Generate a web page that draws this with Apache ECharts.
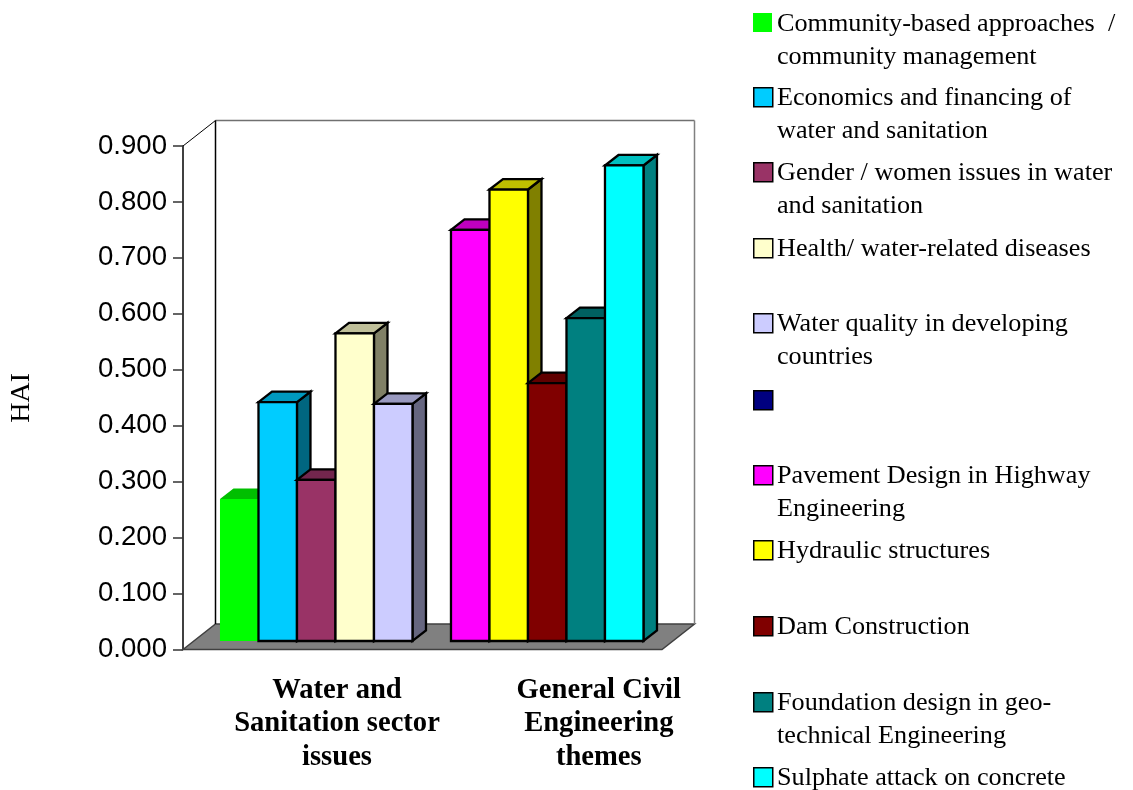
<!DOCTYPE html>
<html>
<head>
<meta charset="utf-8">
<style>html,body{margin:0;padding:0;background:#fff}#chart{width:1133px;height:790px}</style>
<script src="https://cdn.jsdelivr.net/npm/echarts@6/dist/echarts.min.js"></script>
</head>
<body>
<div id="chart"></div>
<script>
// Topic names, one per bar slot; the empty-named slot separates the two groups.
const topics = [
  'Community-based approaches  /\ncommunity management',
  'Economics and financing of\nwater and sanitation',
  'Gender / women issues in water\nand sanitation',
  'Health/ water-related diseases',
  'Water quality in developing\ncountries',
  '',
  'Pavement Design in Highway\nEngineering',
  'Hydraulic structures',
  'Dam Construction',
  'Foundation design in geo-\ntechnical Engineering',
  'Sulphate attack on concrete'
];
const haiValues = [0.254, 0.427, 0.288, 0.550, 0.424, null, 0.735, 0.807, 0.461, 0.577, 0.850];
const barColors = ['#00ff00', '#00ccff', '#993366', '#ffffcc', '#ccccff', '#000080',
                   '#ff00ff', '#ffff00', '#800000', '#008080', '#00ffff'];
const groupLabels = ['Water and\nSanitation sector\nissues', 'General Civil\nEngineering\nthemes'];
const groupLabelSlots = [4, 10.8];
const legendSwatchTops = [13, 87, 162, 238, 313, 390, 465, 540, 616, 692, 767];

// Box geometry of the pseudo-3D drawing, in pixels.
const SLOT_PX = 38.5;
const WALL_DX = 32.5, WALL_DY = -25.5;
const PLANE_DX = 10.8, PLANE_DY = -8.5;
const BAR_DX = 13.5, BAR_DY = -10.5;
const SLOT_START = 0.68;
const PLOT_W = 479;

function shade(hex, f) {
  const n = parseInt(hex.slice(1), 16);
  const c = [n >> 16 & 255, n >> 8 & 255, n & 255].map(v => Math.round(v * f));
  return 'rgb(' + c.join(',') + ')';
}

// Floor and back wall of the box, anchored on the axis scales.
function renderFrame(params, api) {
  const o = api.coord([0, 0]);
  const top = api.coord([0, 0.9]);
  const end = api.coord([PLOT_W / SLOT_PX, 0]);
  const bx = o[0] + WALL_DX, by = o[1] + WALL_DY, ty = top[1] + WALL_DY, rx = end[0] + WALL_DX;
  const line = (x1, y1, x2, y2, stroke, w) => ({
    type: 'line', shape: { x1, y1, x2, y2 }, style: { stroke, lineWidth: w }
  });
  return {
    type: 'group',
    children: [
      { type: 'polygon',
        shape: { points: [[o[0], o[1]], [bx, by], [rx, by], [end[0], end[1]]] },
        style: { fill: '#808080', stroke: '#404040', lineWidth: 1.5 } },
      line(bx, ty, rx, ty, '#707070', 1.5),
      line(rx, ty, rx, by, '#808080', 1.5),
      line(bx, ty, bx, by, '#000000', 1.5),
      line(top[0], top[1], bx, ty, '#000000', 1)
    ]
  };
}

// One bar: side face, top face, then front face.
function renderBar(params, api) {
  const i = api.value(0), v = api.value(1);
  if (isNaN(v)) return null;
  const tl = api.coord([SLOT_START + i, v]);
  const br = api.coord([SLOT_START + i + 1, 0]);
  const x0 = tl[0] + PLANE_DX, x1 = br[0] + PLANE_DX, y0 = tl[1] + PLANE_DY, y1 = br[1] + PLANE_DY;
  const color = barColors[i];
  const outlined = i !== 0;
  const edge = fill => outlined
    ? { fill, stroke: '#000', lineWidth: 2.3, lineJoin: 'miter' }
    : { fill };
  return {
    type: 'group',
    children: [
      { type: 'polygon',
        shape: { points: [[x1, y0], [x1 + BAR_DX, y0 + BAR_DY], [x1 + BAR_DX, y1 + BAR_DY], [x1, y1]] },
        style: edge(shade(color, 0.5)) },
      { type: 'polygon',
        shape: { points: [[x0, y0], [x0 + BAR_DX, y0 + BAR_DY], [x1 + BAR_DX, y0 + BAR_DY], [x1, y0]] },
        style: edge(shade(color, 0.75)) },
      { type: 'rect',
        shape: { x: x0, y: y0, width: x1 - x0, height: y1 - y0 },
        style: edge(color) }
    ]
  };
}

// Key down the right-hand side: a swatch and the wrapped topic name.
const legendGraphics = [];
topics.forEach((name, i) => {
  legendGraphics.push({
    type: 'rect', left: 753, top: legendSwatchTops[i],
    shape: { width: 19, height: 19 },
    style: i === 0 ? { fill: barColors[i] } : { fill: barColors[i], stroke: '#000', lineWidth: 1.5 }
  });
  if (name) legendGraphics.push({
    type: 'text', left: 777, top: legendSwatchTops[i] - 6,
    style: { text: name, fill: '#000', font: '26.2px "Liberation Serif"', lineHeight: 33.5 }
  });
});

const chart = echarts.init(document.getElementById('chart'));
chart.setOption({
  animation: false,
  backgroundColor: '#ffffff',
  grid: { left: 183, top: 146, width: PLOT_W, height: 503.5, outerBoundsMode: 'none' },
  xAxis: {
    type: 'value', min: 0, max: PLOT_W / SLOT_PX,
    axisLine: { show: false }, axisTick: { show: false }, splitLine: { show: false },
    axisLabel: {
      customValues: groupLabelSlots,
      formatter: v => groupLabels[groupLabelSlots.indexOf(v)] || '',
      color: '#000', fontFamily: 'Liberation Serif', fontWeight: 'bold',
      fontSize: 28.6, lineHeight: 33.5, margin: 24, align: 'center'
    }
  },
  yAxis: {
    type: 'value', min: 0, max: 0.9, interval: 0.1,
    name: 'HAI', nameLocation: 'middle', nameRotate: 90, nameGap: 147,
    nameTextStyle: { color: '#000', fontFamily: 'Liberation Serif', fontSize: 28 },
    axisLine: { show: true, lineStyle: { color: '#000', width: 1.5 } },
    axisTick: { show: true, length: 10, lineStyle: { color: '#333', width: 1.5 } },
    splitLine: { show: false },
    axisLabel: {
      formatter: v => v.toFixed(3),
      color: '#000', fontFamily: 'Liberation Sans', fontSize: 27.6, margin: 16,
      padding: [6, 0, 0, 0]
    }
  },
  graphic: legendGraphics,
  series: [
    { type: 'custom', name: 'box', z: 1, silent: true, renderItem: renderFrame, data: [[0, 0]] },
    { type: 'custom', name: 'HAI', z: 2, clip: false, renderItem: renderBar,
      encode: { x: 0, y: 1 },
      data: haiValues.map((v, i) => [i, v === null ? '-' : v]) }
  ]
});
</script>
</body>
</html>
